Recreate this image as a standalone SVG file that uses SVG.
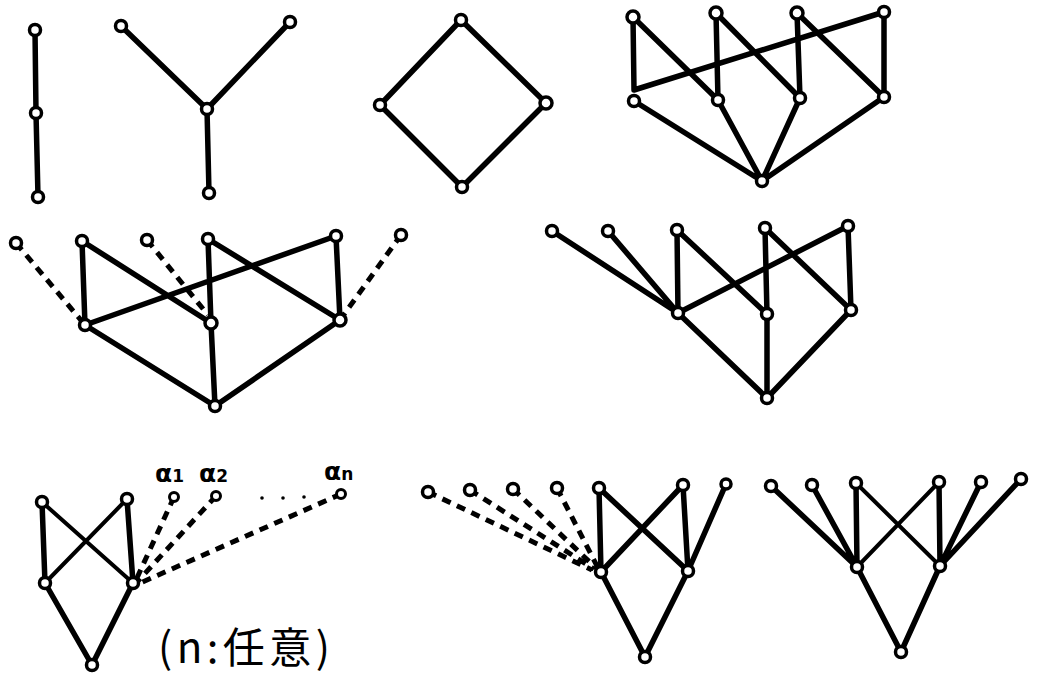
<svg xmlns="http://www.w3.org/2000/svg" width="1037" height="673" viewBox="0 0 1037 673">
<style>
.e{stroke:#000;stroke-width:5.5;stroke-linecap:round;stroke-linejoin:round;fill:none}
.t{stroke:#000;stroke-width:4;stroke-linecap:round;fill:none}
.d{stroke:#000;stroke-width:5;stroke-dasharray:9 7;fill:none}
.n{fill:#fff;stroke:#000;stroke-width:3.5}
.s{fill:#fff;stroke:#000;stroke-width:3}
.lbl{font-family:"DejaVu Sans",sans-serif;font-size:25px;font-weight:bold;fill:#000}
.cap{font-family:"Noto Sans CJK JP","DejaVu Sans",sans-serif;font-size:42px;fill:#000}
</style>
<rect width="1037" height="673" fill="#fff"/>
<g id="connectors">
<path class="e" d="M35 30 L36 113 L38 197"/>
<path class="e" d="M121 26 L207 109 L290 22 M207 109 L209 193"/>
<path class="e" d="M461 20 L380 105 L462 187 L546 103 Z"/>
<path class="e" d="M633 17 L634 90 L884 12"/>
<path class="e" d="M633 17 L718 100 M716 13 L718 100 M716 13 L800 98 M797 13 L800 98 M797 13 L884 97 M884 12 L884 97"/>
<path class="e" d="M634 101 L762 181 M718 100 L762 181 M800 98 L762 181 M884 97 L762 181"/>
<path class="e" d="M82 241 L85 325 M82 241 L211 323 M208 239 L211 323 M208 239 L340 320 M336 236 L340 320 M85 325 L336 236"/>
<path class="e" d="M85 325 L215 406 L211 323 M215 406 L340 320"/>
<path class="d" d="M16 243 L85 325 M147 240 L208 315 M401 235 L340 320"/>
<path class="e" d="M552 231 L678 313 M608 231 L678 313 M677 230 L678 313 M677 230 L767 314 M765 228 L767 314 M765 228 L851 310 M848 226 L851 310 M678 313 L848 226"/>
<path class="e" d="M678 313 L767 398 L767 314 M767 398 L851 310"/>
<path class="e" d="M42 502 L45 583 M127 499 L133 583 M45 583 L92 665 L133 583"/>
<path class="t" d="M42 502 L133 583 M127 499 L45 583"/>
<path class="d" d="M174 497 L136 580 M216 496 L137 582 M341 494 L138 584"/>
<path class="e" d="M599 488 L601 572 M599 488 L688 571 M683 485 L601 572 M683 485 L688 571 M726 484 L688 571 M601 572 L645 657 L688 571"/>
<path class="d" d="M428 492 L592 570 M470 490 L594 569 M513 489 L596 568 M557 488 L598 568"/>
<path class="e" d="M771 486 L857 567 M812 485 L857 567 M856 483 L857 567 M939 482 L940 566 M981 482 L940 566 M1021 479 L940 566 M857 567 L901 652 L940 566"/>
<path class="t" d="M856 483 L940 566 M939 482 L857 567"/>
</g>
<g id="chain-1"><circle class="n" cx="35" cy="30" r="5.5"/></g>
<g id="chain-2"><circle class="n" cx="36" cy="113" r="5.5"/></g>
<g id="chain-3"><circle class="n" cx="38" cy="197" r="5.5"/></g>
<g id="y-left"><circle class="n" cx="121" cy="26" r="5.5"/></g>
<g id="y-right"><circle class="n" cx="290" cy="22" r="5.5"/></g>
<g id="y-center"><circle class="n" cx="207" cy="109" r="5.5"/></g>
<g id="y-bottom"><circle class="n" cx="209" cy="193" r="5.5"/></g>
<g id="dia-top"><circle class="n" cx="461" cy="20" r="5.5"/></g>
<g id="dia-left"><circle class="n" cx="380" cy="105" r="5.5"/></g>
<g id="dia-right"><circle class="n" cx="546" cy="103" r="6"/></g>
<g id="dia-bottom"><circle class="n" cx="462" cy="187" r="5.5"/></g>
<g id="tr-t1"><circle class="n" cx="633" cy="17" r="6"/></g>
<g id="tr-t2"><circle class="n" cx="716" cy="13" r="6"/></g>
<g id="tr-t3"><circle class="n" cx="797" cy="13" r="6"/></g>
<g id="tr-t4"><circle class="n" cx="884" cy="12" r="5.5"/></g>
<g id="tr-m1"><circle class="n" cx="634" cy="101" r="5.5"/></g>
<g id="tr-m2"><circle class="n" cx="718" cy="100" r="5.5"/></g>
<g id="tr-m3"><circle class="n" cx="800" cy="98" r="5.5"/></g>
<g id="tr-m4"><circle class="n" cx="884" cy="97" r="5.5"/></g>
<g id="tr-b"><circle class="n" cx="762" cy="181" r="5.5"/></g>
<g id="ml-d1"><circle class="n" cx="16" cy="243" r="5.5"/></g>
<g id="ml-d2"><circle class="n" cx="147" cy="240" r="5.5"/></g>
<g id="ml-d3"><circle class="n" cx="401" cy="235" r="5.5"/></g>
<g id="ml-t1"><circle class="n" cx="82" cy="241" r="5.5"/></g>
<g id="ml-t2"><circle class="n" cx="208" cy="239" r="5.5"/></g>
<g id="ml-t3"><circle class="n" cx="336" cy="236" r="5.5"/></g>
<g id="ml-m1"><circle class="n" cx="85" cy="325" r="5.5"/></g>
<g id="ml-m2"><circle class="n" cx="211" cy="323" r="6"/></g>
<g id="ml-m3"><circle class="n" cx="340" cy="320" r="6"/></g>
<g id="ml-b"><circle class="n" cx="215" cy="406" r="5.5"/></g>
<g id="mr-a"><circle class="n" cx="552" cy="231" r="5.5"/></g>
<g id="mr-b"><circle class="n" cx="608" cy="231" r="5.5"/></g>
<g id="mr-t1"><circle class="n" cx="677" cy="230" r="5.5"/></g>
<g id="mr-t2"><circle class="n" cx="765" cy="228" r="5.5"/></g>
<g id="mr-t3"><circle class="n" cx="848" cy="226" r="5.5"/></g>
<g id="mr-m1"><circle class="n" cx="678" cy="313" r="5.5"/></g>
<g id="mr-m2"><circle class="n" cx="767" cy="314" r="5.5"/></g>
<g id="mr-m3"><circle class="n" cx="851" cy="310" r="5.5"/></g>
<g id="mr-bottom"><circle class="n" cx="767" cy="398" r="5.5"/></g>
<g id="bl-tl"><circle class="n" cx="42" cy="502" r="5.5"/></g>
<g id="bl-tr"><circle class="n" cx="127" cy="499" r="5.5"/></g>
<g id="bl-ml"><circle class="n" cx="45" cy="583" r="5.5"/></g>
<g id="bl-mr"><circle class="n" cx="133" cy="583" r="5.5"/></g>
<g id="bl-b"><circle class="n" cx="92" cy="665" r="5.5"/></g>
<g id="bl-a1"><circle class="s" cx="174" cy="497" r="4.5"/><text class="lbl" x="155" y="482">α<tspan font-size="17" dy="0">1</tspan></text></g>
<g id="bl-a2"><circle class="s" cx="216" cy="496" r="4.5"/><text class="lbl" x="199" y="482">α<tspan font-size="17" dy="0">2</tspan></text></g>
<g id="bl-an"><circle class="s" cx="341" cy="494" r="4.5"/><text class="lbl" x="324" y="480">α<tspan font-size="17" dy="0">n</tspan></text></g>
<g id="bl-dots"><circle cx="262" cy="498" r="1.8"/><circle cx="283" cy="498" r="1.8"/><circle cx="304" cy="497" r="1.8"/></g>
<g id="bl-caption"><text class="cap" x="158" y="663" textLength="172" lengthAdjust="spacing">(n:任意)</text></g>
<g id="bm-d1"><circle class="n" cx="428" cy="492" r="5.5"/></g>
<g id="bm-d2"><circle class="n" cx="470" cy="490" r="5.5"/></g>
<g id="bm-d3"><circle class="n" cx="513" cy="489" r="5.5"/></g>
<g id="bm-d4"><circle class="n" cx="557" cy="488" r="5.5"/></g>
<g id="bm-t1"><circle class="n" cx="599" cy="488" r="5.5"/></g>
<g id="bm-t2"><circle class="n" cx="683" cy="485" r="5.5"/></g>
<g id="bm-t3"><circle class="n" cx="726" cy="484" r="5"/></g>
<g id="bm-ml"><circle class="n" cx="601" cy="572" r="5.5"/></g>
<g id="bm-mr"><circle class="n" cx="688" cy="571" r="5.5"/></g>
<g id="bm-b"><circle class="n" cx="645" cy="657" r="5.5"/></g>
<g id="br-t1"><circle class="n" cx="771" cy="486" r="5.5"/></g>
<g id="br-t2"><circle class="n" cx="812" cy="485" r="5.5"/></g>
<g id="br-t3"><circle class="n" cx="856" cy="483" r="5.5"/></g>
<g id="br-t4"><circle class="n" cx="939" cy="482" r="5.5"/></g>
<g id="br-t5"><circle class="n" cx="981" cy="482" r="5.5"/></g>
<g id="br-t6"><circle class="n" cx="1021" cy="479" r="5.5"/></g>
<g id="br-ml"><circle class="n" cx="857" cy="567" r="5.5"/></g>
<g id="br-mr"><circle class="n" cx="940" cy="566" r="5.5"/></g>
<g id="br-b"><circle class="n" cx="901" cy="652" r="5.5"/></g>
</svg>
